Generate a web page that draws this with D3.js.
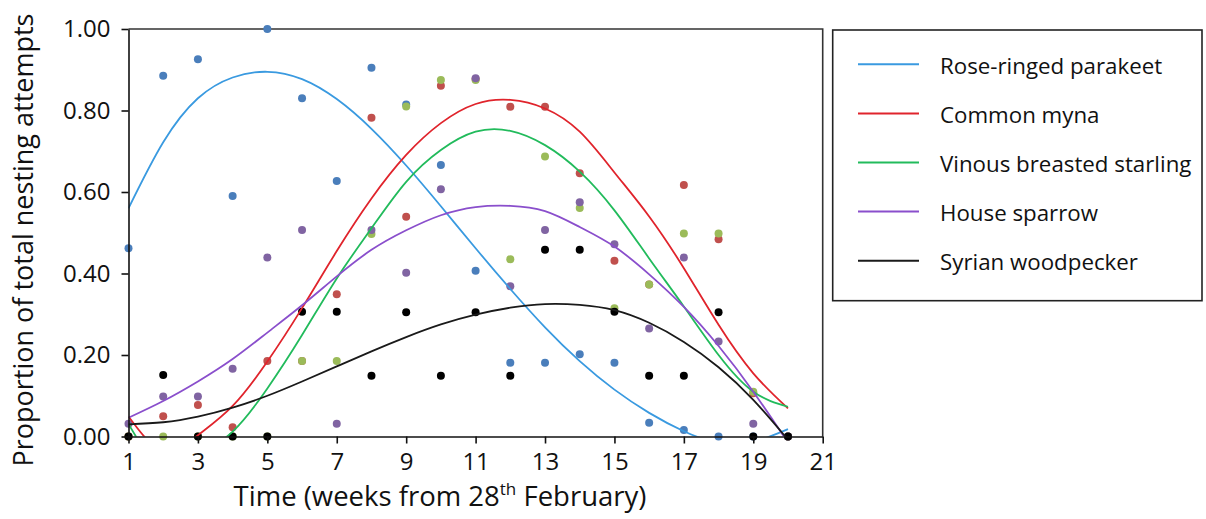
<html>
    <style>
        body { margin: 0; background: white; }
        text { font-family: "Open Sans", sans-serif; fill: #111; }
    </style>
    <body>
        <div id="chart"><svg></svg></div>
    </body>
    <script src="https://d3js.org/d3.v7.min.js"></script>
    <script>
    // weeks 1..20
    var weeks = [1,2,3,4,5,6,7,8,9,10,11,12,13,14,15,16,17,18,19,20]
    var xTicks = [1,3,5,7,9,11,13,15,17,19,21]
    var yTicks = [0,0.2,0.4,0.6,0.8,1.0]

    var speciesNames = ["Rose-ringed parakeet","Common myna","Vinous breasted starling","House sparrow","Syrian woodpecker"]

    // observed proportions (dots)
    var parakeetObs = [0.462,0.885,0.926,0.590,1.000,0.830,0.627,0.905,0.815,0.666,0.407,0.181,0.181,0.202,0.181,0.034,0.016,0,0,0]
    var mynaObs = [0,0.050,0.077,0.023,0.185,0.185,0.349,0.782,0.539,0.861,0.877,0.809,0.809,0.646,0.431,0.373,0.617,0.484,0.106,0]
    var starlingObs = [0,0,0,0,0,0.185,0.185,0.497,0.810,0.875,0.875,0.435,0.687,0.561,0.315,0.373,0.498,0.498,0.110,0]
    var sparrowObs = [0.031,0.098,0.098,0.166,0.439,0.507,0.031,0.507,0.402,0.607,0.879,0.369,0.507,0.575,0.472,0.265,0.439,0.233,0.031,0]
    var woodpeckerObs = [0,0.151,0,0,0,0.306,0.306,0.149,0.305,0.149,0.305,0.149,0.458,0.458,0.306,0.149,0.149,0.305,0,0]

    // trend curves at each week
    var parakeetFit = [0.560,0.722,0.830,0.881,0.895,0.877,0.828,0.755,0.665,0.565,0.462,0.362,0.268,0.185,0.115,0.058,0.013,-0.016,-0.013,0.018]
    var mynaFit = [0.049,-0.035,0.003,0.075,0.184,0.315,0.455,0.584,0.691,0.769,0.816,0.826,0.805,0.748,0.648,0.540,0.413,0.274,0.155,0.069]
    var starlingFit = [0.031,-0.080,-0.050,0.012,0.118,0.249,0.388,0.511,0.625,0.703,0.748,0.750,0.715,0.650,0.555,0.437,0.319,0.200,0.110,0.073]
    var sparrowFit = [0.046,0.087,0.135,0.190,0.255,0.322,0.393,0.458,0.506,0.543,0.563,0.566,0.553,0.514,0.466,0.398,0.318,0.222,0.110,-0.015]
    var woodpeckerFit = [0.030,0.035,0.049,0.071,0.100,0.135,0.172,0.209,0.244,0.275,0.299,0.316,0.325,0.323,0.310,0.279,0.232,0.170,0.090,-0.008]

    var dotColors = ["#4a7ebb","#c0504d","#9bbb59","#8064a2","#000000"]
    var lineColors = ["#3a9ae0","#e0242c","#22bb5c","#8a4fcc","#1a1a1a"]

    var observed = [parakeetObs, mynaObs, starlingObs, sparrowObs, woodpeckerObs]
    var fitted = [parakeetFit, mynaFit, starlingFit, sparrowFit, woodpeckerFit]

    var screen = {width: 1206, height: 519}
    var plot = {left: 128.5, right: 822.7, top: 29, bottom: 436.5}

    var svg = d3.select("#chart svg")
                .attr("width", screen.width)
                .attr("height", screen.height)

    var xScale = d3.scaleLinear()
                    .domain([1, 21])
                    .range([plot.left, plot.right])
    var yScale = d3.scaleLinear()
                    .domain([0, 1])
                    .range([plot.bottom, plot.top])

    svg.append("defs").append("clipPath")
        .attr("id", "plotclip")
        .append("rect")
        .attr("x", plot.left)
        .attr("y", plot.top)
        .attr("width", plot.right - plot.left)
        .attr("height", plot.bottom - plot.top)

    // plot area border (top and right)
    svg.append("path")
        .attr("d", "M" + plot.left + "," + plot.top + "H" + plot.right + "V" + plot.bottom)
        .attr("fill", "none")
        .attr("stroke", "#333")
        .attr("stroke-width", 1.6)

    var dots = svg.append("g")
    observed.forEach(function(series, s){
        dots.append("g")
            .selectAll("circle")
            .data(series)
            .enter()
            .append("circle")
            .attr("cx", function(d, i){return xScale(weeks[i])})
            .attr("cy", function(d){return yScale(d)})
            .attr("r", 4)
            .attr("fill", dotColors[s])
    })

    var linegenerator = d3.line()
                            .x(function(d, i){return xScale(weeks[i])})
                            .y(function(d){return yScale(d)})
                            .curve(d3.curveNatural)
    svg.append("g")
        .attr("clip-path", "url(#plotclip)")
        .selectAll("path")
        .data(fitted)
        .enter()
        .append("path")
        .attr("d", linegenerator)
        .attr("fill", "none")
        .attr("stroke", function(d, i){return lineColors[i]})
        .attr("stroke-width", 1.8)

    var xAxis = d3.axisBottom(xScale)
                    .tickValues(xTicks)
                    .tickFormat(d3.format("d"))
                    .tickSize(7)
                    .tickSizeOuter(0)
                    .tickPadding(9)
    var yAxis = d3.axisLeft(yScale)
                    .tickValues(yTicks)
                    .tickFormat(d3.format(".2f"))
                    .tickSize(7)
                    .tickSizeOuter(0)
                    .tickPadding(11)

    var axes = svg.append("g")
    axes.append("g")
        .attr("transform", "translate(0," + plot.bottom + ")")
        .call(xAxis)
    axes.append("g")
        .attr("transform", "translate(" + plot.left + ",0)")
        .call(yAxis)
    axes.selectAll("path, line")
        .attr("stroke", "#111")
        .attr("stroke-width", 1.6)
    axes.selectAll("text")
        .attr("font-family", "Open Sans")
        .attr("font-size", 24)
        .attr("fill", "#111")

    // axis titles
    var xTitle = svg.append("text")
        .attr("x", 440)
        .attr("y", 506)
        .attr("text-anchor", "middle")
        .attr("font-size", 27.5)
    xTitle.append("tspan").text("Time (weeks from 28")
    xTitle.append("tspan").text("th").attr("font-size", 17).attr("dy", -11)
    xTitle.append("tspan").text(" February)").attr("dy", 11)

    svg.append("text")
        .attr("transform", "translate(33,240) rotate(-90)")
        .attr("text-anchor", "middle")
        .attr("font-size", 27)
        .text("Proportion of total nesting attempts")

    // legend
    var legend = svg.append("g")
    legend.append("rect")
        .attr("x", 832.7)
        .attr("y", 30)
        .attr("width", 369.3)
        .attr("height", 270.7)
        .attr("fill", "white")
        .attr("stroke", "#222")
        .attr("stroke-width", 1.6)
    var legendY = d3.scalePoint()
                    .domain(speciesNames)
                    .range([64.3, 260.7])
    var items = legend.selectAll("g.item")
        .data(speciesNames)
        .enter()
        .append("g")
        .attr("class", "item")
        .attr("transform", function(d){return "translate(0," + legendY(d) + ")"})
    items.append("line")
        .attr("x1", 858)
        .attr("x2", 919)
        .attr("stroke", function(d, i){return lineColors[i]})
        .attr("stroke-width", 2)
    items.append("text")
        .attr("x", 940)
        .attr("y", 1)
        .attr("dominant-baseline", "central")
        .attr("font-size", 22.3)
        .text(function(d){return d})
    </script>
</html>
